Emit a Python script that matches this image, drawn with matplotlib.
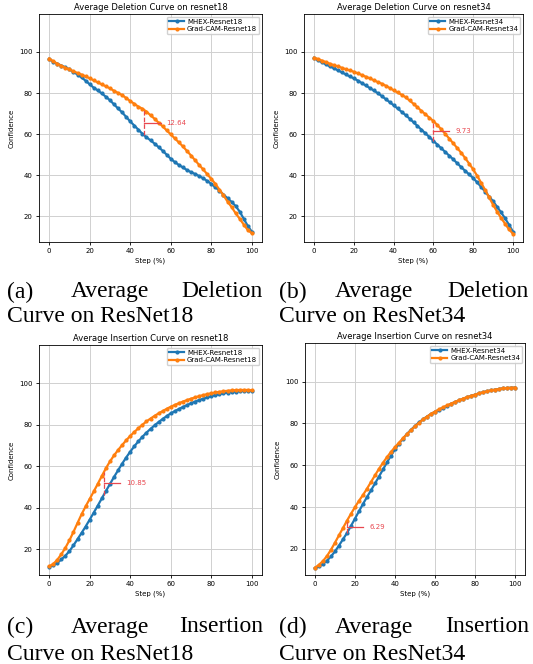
import numpy as np
import matplotlib.pyplot as plt

steps = np.arange(0, 101, 2)

# deletion, resnet18
del18_mhex = [96.5, 95.3, 94.3, 93.4, 92.5, 91.5, 90.3, 89.0, 87.6, 86.0, 84.3, 82.6, 81.3, 79.8, 78.2, 76.5,
              74.5, 72.5, 70.6, 68.4, 66.2, 64.2, 62.2, 60.2, 58.5, 57.0, 55.4, 53.7, 51.9, 50.0, 48.0, 46.4,
              45.0, 43.8, 42.5, 41.5, 40.6, 39.6, 38.5, 37.2, 35.8, 34.2, 32.5, 30.6, 28.8, 27.0, 25.0, 22.3,
              18.8, 15.3, 12.5]
del18_gc = [96.8, 95.5, 94.3, 93.3, 92.4, 91.5, 90.6, 89.8, 89.0, 88.1, 87.2, 86.2, 85.2, 84.2, 83.3, 82.3,
            81.1, 80.1, 79.0, 77.6, 76.1, 74.8, 73.4, 72.4, 71.0, 69.2, 67.5, 65.6, 63.8, 61.8, 59.9, 57.9,
            56.0, 54.0, 51.8, 49.6, 47.3, 45.0, 42.8, 40.5, 38.2, 35.8, 33.0, 30.2, 27.2, 24.5, 21.5, 18.8,
            16.0, 13.3, 11.8]

# deletion, resnet34
del34_mhex = [97.0, 96.0, 95.0, 94.0, 93.0, 92.1, 91.1, 90.1, 89.1, 88.1, 87.2, 86.1, 84.9, 83.7, 82.5, 81.3,
              80.0, 78.6, 77.1, 75.6, 74.1, 72.5, 70.9, 69.3, 67.6, 65.8, 64.0, 62.2, 60.4, 58.6, 56.7, 54.9,
              53.1, 51.3, 49.5, 47.7, 45.8, 43.9, 42.1, 40.4, 38.6, 36.5, 34.3, 32.0, 29.6, 27.3, 24.6, 21.9,
              19.0, 15.8, 12.5]
del34_gc = [97.2, 96.6, 95.8, 95.1, 94.3, 93.6, 93.0, 92.3, 91.6, 91.0, 90.4, 89.6, 88.8, 88.0, 87.2, 86.3,
            85.4, 84.6, 83.6, 82.5, 81.4, 80.3, 79.2, 78.0, 76.4, 74.8, 73.1, 71.3, 69.7, 68.0, 66.4, 64.4,
            62.3, 60.1, 57.8, 55.5, 53.2, 50.9, 48.3, 45.6, 42.8, 39.7, 36.3, 32.8, 29.2, 25.6, 22.3, 19.2,
            16.4, 13.6, 11.5]

# insertion, resnet18
ins18_mhex = [11.5, 12.2, 13.3, 15.0, 16.8, 19.0, 21.8, 24.8, 27.8, 30.9, 34.2, 37.6, 41.0, 44.5, 48.0, 51.4,
              54.8, 58.0, 61.2, 64.2, 67.0, 69.6, 72.0, 74.2, 76.2, 78.0, 79.7, 81.3, 82.8, 84.2, 85.5, 86.6,
              87.6, 88.6, 89.5, 90.4, 91.2, 91.9, 92.6, 93.2, 93.8, 94.3, 94.8, 95.2, 95.5, 95.8, 96.0, 96.2,
              96.4, 96.5, 96.5]
ins18_gc = [11.7, 12.8, 14.8, 17.5, 20.6, 24.2, 28.3, 32.6, 36.8, 40.6, 44.2, 47.8, 51.5, 55.3, 59.0, 62.3,
            65.2, 67.8, 70.2, 72.5, 74.6, 76.5, 78.3, 80.0, 81.6, 83.0, 84.3, 85.5, 86.6, 87.7, 88.7, 89.6,
            90.4, 91.2, 91.9, 92.6, 93.2, 93.8, 94.3, 94.8, 95.2, 95.6, 95.9, 96.2, 96.4, 96.6, 96.7, 96.8,
            96.8, 96.8, 96.7]

# insertion, resnet34
ins34_mhex = [10.7, 11.6, 12.8, 14.4, 16.4, 18.8, 21.6, 24.6, 27.6, 31.0, 34.5, 38.0, 41.5, 44.8, 48.0, 51.3,
              54.6, 58.0, 61.4, 64.6, 67.6, 70.4, 72.8, 75.0, 77.0, 78.8, 80.5, 82.0, 83.3, 84.5, 85.6, 86.6,
              87.6, 88.5, 89.4, 90.2, 91.0, 91.8, 92.5, 93.2, 93.8, 94.4, 94.9, 95.4, 95.8, 96.2, 96.5, 96.8,
              97.0, 97.1, 97.2]
ins34_gc = [11.0, 12.4, 14.2, 16.6, 19.6, 23.0, 26.5, 30.0, 33.5, 36.8, 40.0, 43.0, 45.8, 48.8, 52.0, 55.2,
            58.3, 61.2, 63.9, 66.4, 68.7, 70.8, 72.9, 74.9, 76.8, 78.6, 80.3, 81.9, 83.3, 84.6, 85.7, 86.7,
            87.7, 88.6, 89.5, 90.3, 91.1, 91.9, 92.6, 93.2, 93.8, 94.4, 94.9, 95.4, 95.8, 96.2, 96.5, 96.8,
            97.0, 97.1, 97.2]

gap_steps = [47, 60, 27, 16]
gap_labels = ['12.64', '9.73', '10.85', '6.29']

panels = [
    ('Average Deletion Curve on resnet18', 'Resnet18', del18_mhex, del18_gc),
    ('Average Deletion Curve on resnet34', 'Resnet34', del34_mhex, del34_gc),
    ('Average Insertion Curve on resnet18', 'Resnet18', ins18_mhex, ins18_gc),
    ('Average Insertion Curve on resnet34', 'Resnet34', ins34_mhex, ins34_gc),
]
captions = [
    ('(a)', 'Average', 'Deletion', 'Curve on ResNet18'),
    ('(b)', 'Average', 'Deletion', 'Curve on ResNet34'),
    ('(c)', 'Average', 'Insertion', 'Curve on ResNet18'),
    ('(d)', 'Average', 'Insertion', 'Curve on ResNet34'),
]

W, H = 533, 664
fig = plt.figure(figsize=(W / 100, H / 100), dpi=100)

# axes boxes in pixels: left, top, right, bottom
boxes = [(39, 14, 262, 242), (304, 14, 523, 242), (39, 345, 262, 575), (305, 343, 525, 575)]
red = '#e8474f'

for i, (title, net, mhex, gc) in enumerate(panels):
    l, t, r, b = boxes[i]
    ax = fig.add_axes([l / W, 1 - b / H, (r - l) / W, (b - t) / H])
    ax.plot(steps, mhex, '-o', color='#1f77b4', lw=1.6, ms=2.0, label='MHEX-' + net)
    ax.plot(steps, gc, '-o', color='#ff7f0e', lw=1.6, ms=2.0, label='Grad-CAM-' + net)

    xs = gap_steps[i]
    y1 = np.interp(xs, steps, mhex)
    y2 = np.interp(xs, steps, gc)
    ym = (y1 + y2) / 2
    ax.plot([xs, xs], [y1, y2], '--', color=red, lw=0.9)
    ax.plot([xs, xs + 8], [ym, ym], '-', color=red, lw=0.9)
    ax.text(xs + 11, ym, gap_labels[i], color=red, fontsize=5, va='center')

    ax.set_xlim(-5, 105)
    ax.set_ylim(7.5, 118.5)
    ax.set_xticks([0, 20, 40, 60, 80, 100])
    ax.set_yticks([20, 40, 60, 80, 100])
    ax.grid(True, color='#d0d0d0', lw=0.7)
    ax.tick_params(labelsize=5, length=2.5, width=0.6, pad=2)
    for s in ax.spines.values():
        s.set_linewidth(0.6)
    ax.set_title(title, fontsize=6, pad=3)
    ax.set_xlabel('Step (%)', fontsize=5, labelpad=2)
    ax.set_ylabel('Confidence', fontsize=5, labelpad=3)
    ax.legend(loc='upper right', fontsize=5, handlelength=2.2, borderpad=0.3,
              labelspacing=0.2, handletextpad=0.4, borderaxespad=0.4, framealpha=0.9)

    # caption under the panel, justified by hand
    col_l = 7 if i % 2 == 0 else 279
    col_r = 263 if i % 2 == 0 else 529
    avg_x = 110 if i % 2 == 0 else 374
    y1c = 292 if i < 2 else 627
    y2c = 317 if i < 2 else 654
    w0, w1, w2, line2 = captions[i]
    kw = dict(fontsize=17, family='Liberation Serif', va='center')
    fig.text(col_l / W, 1 - y1c / H, w0, ha='left', **kw)
    fig.text(avg_x / W, 1 - y1c / H, w1, ha='center', **kw)
    fig.text(col_r / W, 1 - y1c / H, w2, ha='right', **kw)
    fig.text(col_l / W, 1 - y2c / H, line2, ha='left', **kw)

fig.savefig('out.png', dpi=100)
